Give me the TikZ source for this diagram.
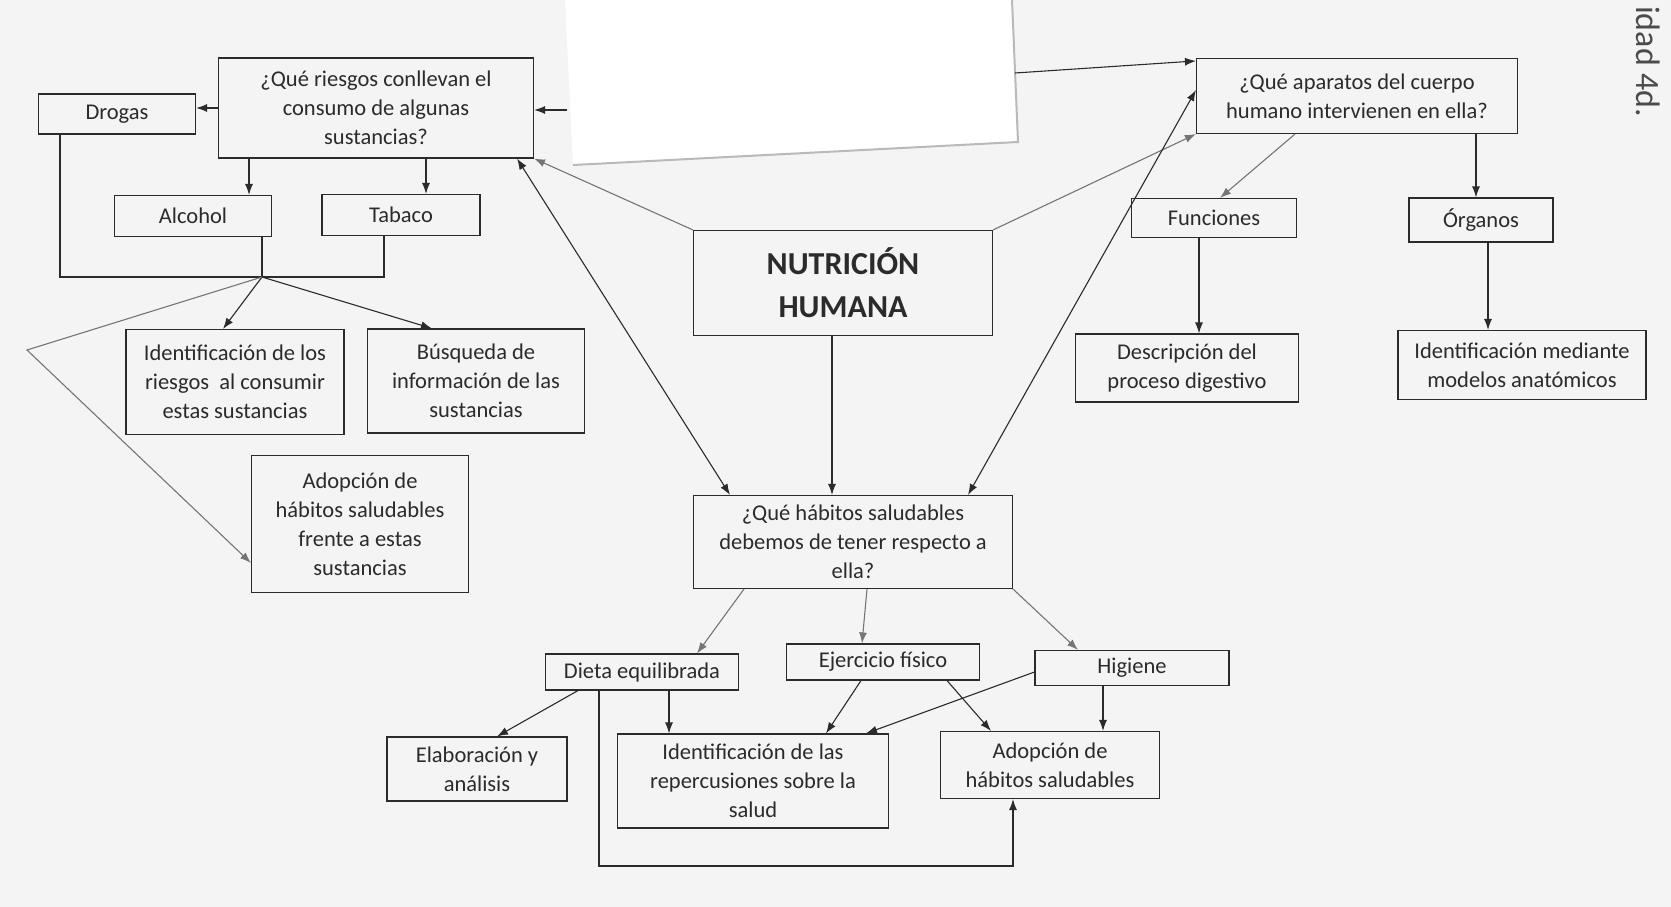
\documentclass[tikz,border=0pt]{standalone}
\usepackage{fontspec}
\setmainfont{Carlito}
\usetikzlibrary{arrows.meta}
\definecolor{ink}{HTML}{2B2B2B}
\definecolor{paper}{HTML}{F4F4F4}
\tikzset{
  box/.style={draw=ink, line width=1.1pt, align=center, text=ink, inner sep=2pt,
    font=\fontsize{22.5}{29}\selectfont},
  link/.style={draw=ink, line width=1.1pt},
  arr/.style={link, -{Latex[length=11pt,width=8pt]}},
  dbl/.style={link, {Latex[length=11pt,width=8pt]}-{Latex[length=11pt,width=8pt]}},
  pale/.style={draw=ink!65}
}
\begin{document}
\begin{tikzpicture}[x=1pt,y=-1pt]
% sheet 1671 x 907, y counts downwards
\useasboundingbox (0,0) rectangle (1671,907);
\fill[paper] (0,0) rectangle (1671,907);
% pasted paper slip
\fill[white] (565,0) -- (573,165) -- (1018,142) -- (1012,0) -- cycle;
\draw[gray!55, line width=2pt] (1012,0) -- (1018,142) -- (573,165);
\node[rotate=-90, anchor=west, text=ink!85, font=\fontsize{34}{34}\selectfont, inner sep=0pt] (nota) at (1648,6) {idad 4d.};

% left branch
\node[box, minimum width=157, minimum height=40] (drogas) at (117,114) {Drogas};
\node[box, minimum width=315, minimum height=100] (riesgos) at (376,108) {¿Qué riesgos conllevan el\\consumo de algunas\\sustancias?};
\node[box, minimum width=157, minimum height=41] (alcohol) at (193,216) {Alcohol};
\node[box, minimum width=158, minimum height=41] (tabaco) at (401,215) {Tabaco};
\node[box, minimum width=218, minimum height=105] (idriesgos) at (235,382) {Identificación de los\\riesgos~ al consumir\\estas sustancias};
\node[box, minimum width=217, minimum height=104] (busqueda) at (476,381) {Búsqueda de\\información de las\\sustancias};
\node[box, minimum width=217, minimum height=137] (adopfrente) at (360,524) {Adopción de\\hábitos saludables\\frente a estas\\sustancias};

% centre
\node[box, minimum width=299, minimum height=105, font=\bfseries\fontsize{32}{43}\selectfont] (nutricion) at (843,283) {NUTRICIÓN\\HUMANA};
\node[box, minimum width=319, minimum height=93] (habitos) at (853,542) {¿Qué hábitos saludables\\debemos de tener respecto a\\ella?};

% right branch
\node[box, minimum width=321, minimum height=75] (aparatos) at (1357,96) {¿Qué aparatos del cuerpo\\humano intervienen en ella?};
\node[box, minimum width=165, minimum height=39] (funciones) at (1214,218) {Funciones};
\node[box, minimum width=144, minimum height=44] (organos) at (1481,220) {Órganos};
\node[box, minimum width=223, minimum height=68] (descripcion) at (1187,368) {Descripción del\\proceso digestivo};
\node[box, minimum width=248, minimum height=69] (modelos) at (1522,365) {Identificación mediante\\modelos anatómicos};

% bottom branch
\node[box, minimum width=193, minimum height=36] (dieta) at (642,672) {Dieta equilibrada};
\node[box, minimum width=193, minimum height=36] (ejercicio) at (883,662) {Ejercicio físico};
\node[box, minimum width=194, minimum height=35] (higiene) at (1132,668) {Higiene};
\node[box, minimum width=180, minimum height=64] (elaboracion) at (477,769) {Elaboración y\\análisis};
\node[box, minimum width=271, minimum height=94] (repercusiones) at (753,781) {Identificación de las\\repercusiones sobre la\\salud};
\node[box, minimum width=219, minimum height=67] (adophab) at (1050,765) {Adopción de\\hábitos saludables};

\coordinate (junc) at (262,277);
\coordinate (bend) at (27,350);
\coordinate (slipL) at (567,110);
\coordinate (slipR) at (1015,73);
\coordinate (loop) at (1013,866);

% connectors, left
\draw[arr] (slipL) -- (slipL -| riesgos.east);
\draw[arr] (riesgos.west) -- (riesgos.west -| drogas.east);
\draw[arr] ([xshift=56pt]alcohol.north |- riesgos.south) -- ([xshift=56pt]alcohol.north);
\draw[arr] ([xshift=25pt]tabaco.north |- riesgos.south) -- ([xshift=25pt]tabaco.north);
\draw[link] ([xshift=22pt]drogas.south west) |- (junc) -| ([xshift=-17pt]tabaco.south);
\draw[link] ([xshift=69pt]alcohol.south) -- (junc);
\draw[arr] (junc) -- ([xshift=-12pt]idriesgos.north);
\draw[arr] (junc) -- ([xshift=-44pt]busqueda.north);
\draw[arr, pale] (junc) -- (bend) -- ([yshift=-39pt]adopfrente.west);

% connectors, centre
\draw[arr, pale] (nutricion.north west) -- (riesgos.south east);
\draw[arr, pale] (nutricion.north east) -- (aparatos.south west);
\draw[dbl] ([xshift=-17pt]riesgos.south east) -- ([xshift=-123pt]habitos.north);
\draw[dbl] ([yshift=6pt]aparatos.west) -- ([xshift=115pt]habitos.north);
\draw[arr] ([xshift=-11pt]nutricion.south) -- ([xshift=-11pt]nutricion.south |- habitos.north);

% connectors, right
\draw[arr] (slipR) -- ([yshift=-3pt]aparatos.north west);
\draw[arr, pale] ([xshift=-62pt]aparatos.south) -- ([xshift=6pt]funciones.north);
\draw[arr] ([xshift=-5pt]organos.north |- aparatos.south) -- ([xshift=-5pt]organos.north);
\draw[arr] ([xshift=-15pt]funciones.south) -- ([xshift=-15pt]funciones.south |- descripcion.north);
\draw[arr] ([xshift=7pt]organos.south) -- ([xshift=7pt]organos.south |- modelos.north);

% connectors, bottom
\draw[arr, pale] ([xshift=-109pt]habitos.south) -- ([xshift=55pt]dieta.north);
\draw[arr, pale] ([xshift=14pt]habitos.south) -- ([xshift=-21pt]ejercicio.north);
\draw[arr, pale] (habitos.south east) -- ([xshift=-54pt]higiene.north);
\draw[arr] ([xshift=-64pt]dieta.south) -- ([xshift=20pt]elaboracion.north);
\draw[arr] ([xshift=27pt]dieta.south) -- ([xshift=27pt]dieta.south |- repercusiones.north);
\draw[arr] ([xshift=-43pt]dieta.south) |- (loop) -- (loop |- adophab.south);
\draw[arr] ([xshift=-22pt]ejercicio.south) -- ([xshift=73pt]repercusiones.north);
\draw[arr] ([xshift=64pt]ejercicio.south) -- ([xshift=-59pt]adophab.north);
\draw[arr] ([yshift=-4pt]higiene.west) -- ([xshift=113pt]repercusiones.north);
\draw[arr] ([xshift=-29pt]higiene.south) -- ([xshift=-29pt]higiene.south |- adophab.north);
\end{tikzpicture}
\end{document}
